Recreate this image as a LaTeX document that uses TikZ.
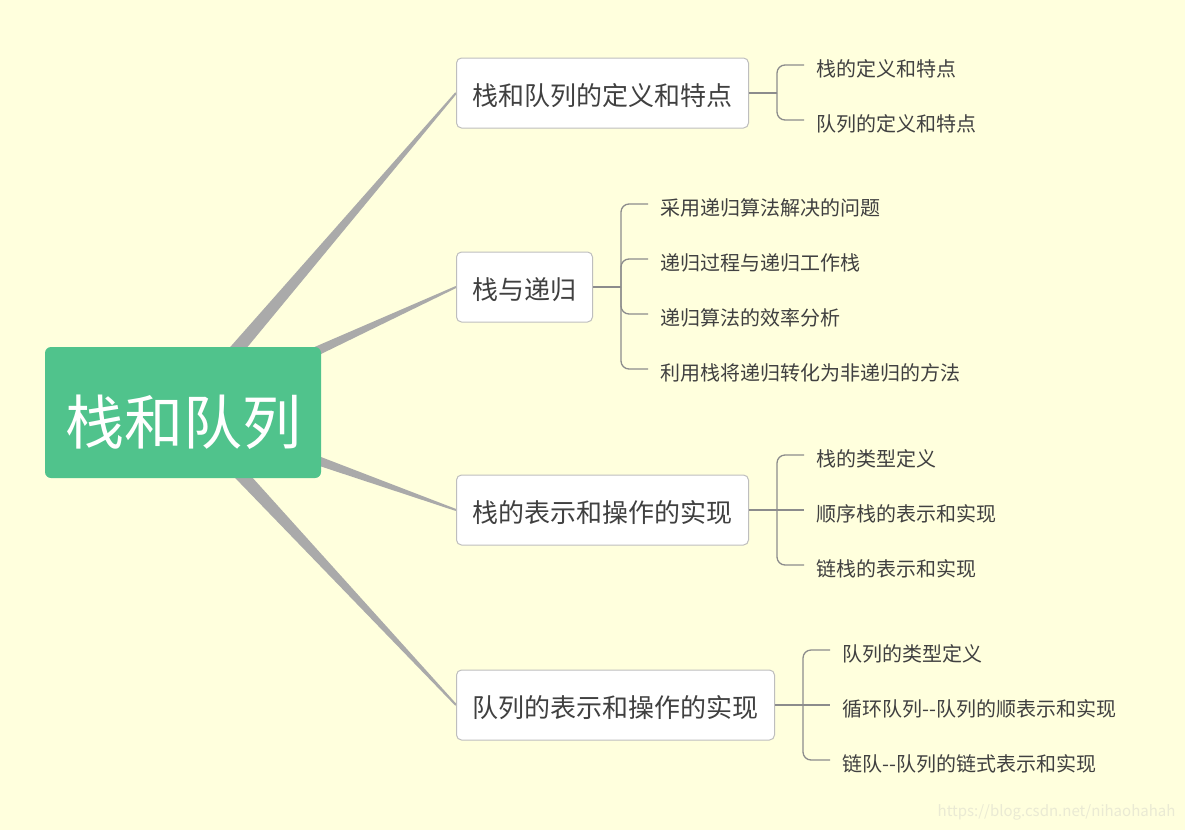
\documentclass[tikz,border=0pt]{standalone}
\usepackage{fontspec}
\setmainfont{Noto Sans CJK SC}
\usepackage{tikz}
\usetikzlibrary{calc}
\usetikzlibrary{positioning}
\definecolor{paper}{RGB}{255,255,221}
\definecolor{rootgreen}{RGB}{80,195,140}
\definecolor{wedgegray}{RGB}{170,170,170}
\definecolor{boxline}{RGB}{190,190,190}
\definecolor{linkgray}{RGB}{140,140,140}
\definecolor{txt}{RGB}{64,64,64}
\definecolor{mark}{RGB}{234,234,212}
\pgfdeclarelayer{back}
\pgfsetlayers{back,main}
\tikzset{
	root/.style={fill=rootgreen,rounded corners=6pt,minimum width=276pt,minimum height=131pt,inner sep=0pt,text=white,text height=64pt,text depth=1pt,font=\fontsize{59}{64}\selectfont},
	topic/.style={draw=boxline,fill=white,line width=1pt,rounded corners=5pt,minimum height=70pt,inner xsep=16pt,inner ysep=0pt,text=txt,text height=26pt,text depth=1pt,font=\fontsize{26}{30}\selectfont,anchor=west},
	leaf/.style={inner xsep=12pt,inner ysep=0pt,text=txt,text height=23pt,text depth=1pt,font=\fontsize{20}{24}\selectfont,anchor=west},
	branch/.style={fill=wedgegray},
	link/.style={draw=linkgray,line width=1.3pt,rounded corners=8pt}
}
\begin{document}
\begin{tikzpicture}[x=1pt,y=-1pt]
	\useasboundingbox (0,0) rectangle (1185,830);
	
	\node[root] (sq) at (183, 412.5) {栈和队列};
	
	\node[topic] (c1) at (456, 93) {栈和队列的定义和特点};
	\node[topic] (c2) at (456, 287) {栈与递归};
	\node[topic] (c3) at (456, 510) {栈的表示和操作的实现};
	\node[topic] (c4) at (456, 705) {队列的表示和操作的实现};
	
	\node[leaf] (l11) at (804, 65) {栈的定义和特点};
	\node[leaf] (l12) at (804, 120) {队列的定义和特点};
	
	\node[leaf] (l21) at (648, 204) {采用递归算法解决的问题};
	\node[leaf] (l22) at (648, 259) {递归过程与递归工作栈};
	\node[leaf] (l23) at (648, 314) {递归算法的效率分析};
	\node[leaf] (l24) at (648, 369) {利用栈将递归转化为非递归的方法};
	
	\node[leaf] (l31) at (804, 455) {栈的类型定义};
	\node[leaf] (l32) at (804, 510) {顺序栈的表示和实现};
	\node[leaf] (l33) at (804, 565) {链栈的表示和实现};
	
	\node[leaf] (l41) at (830, 650) {队列的类型定义};
	\node[leaf] (l42) at (830, 705) {循环队列-{}-队列的顺表示和实现};
	\node[leaf] (l43) at (830, 760) {链队-{}-队列的链式表示和实现};
	
	\node[anchor=east,text=mark,font=\fontsize{15}{18}\selectfont] (wm) at (1179, 812) {https://blog.csdn.net/nihaohahah};
	
	% tapered branches behind the nodes
	\begin{pgfonlayer}{back}
		\fill[paper] (0,0) rectangle (1185,830);
		\foreach \c in {c1,c2,c3,c4}
			\fill[branch] ($(sq.center)!8pt!90:(\c.west)$) -- ($(\c.west)!1pt!-90:(sq.center)$)
				-- ($(\c.west)!1pt!90:(sq.center)$) -- ($(sq.center)!8pt!-90:(\c.west)$) -- cycle;
	\end{pgfonlayer}
	
	% brackets to the leaves
	\coordinate (j1) at ($(c1.east)+(28,0)$);
	\coordinate (j2) at ($(c2.east)+(28,0)$);
	\coordinate (j3) at ($(c3.east)+(28,0)$);
	\coordinate (j4) at ($(c4.east)+(28,0)$);
	
	\draw[link] (c1.east) -- (j1);
	\draw[link] (j1) |- (l11.west);
	\draw[link] (j1) |- (l12.west);
	
	\draw[link] (c2.east) -- (j2);
	\draw[link] (j2) |- (l21.west);
	\draw[link] (j2) |- (l22.west);
	\draw[link] (j2) |- (l23.west);
	\draw[link] (j2) |- (l24.west);
	
	\draw[link] (c3.east) -- (l32.west);
	\draw[link] (j3) |- (l31.west);
	\draw[link] (j3) |- (l33.west);
	
	\draw[link] (c4.east) -- (l42.west);
	\draw[link] (j4) |- (l41.west);
	\draw[link] (j4) |- (l43.west);
\end{tikzpicture}
\end{document}
